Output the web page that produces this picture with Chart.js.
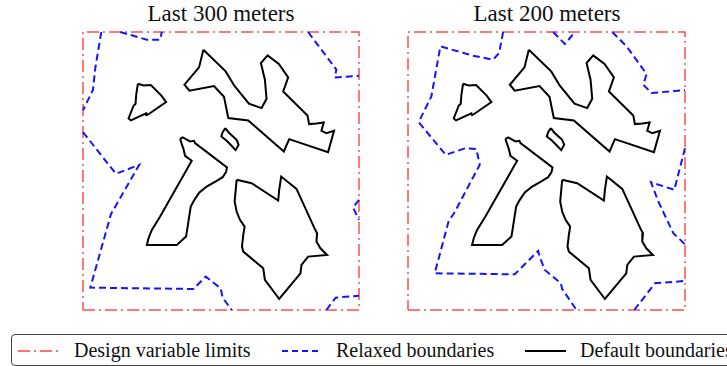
<!doctype html>
<html>
<head>
<meta charset="utf-8">
<title>Boundaries</title>
<script src="https://cdn.jsdelivr.net/npm/chart.js@4"></script>
<style>
	body { margin: 0; width: 727px; height: 366px; overflow: hidden; background: #fff; position: relative; font-family: "Liberation Serif", "DejaVu Serif", serif; }
	canvas { position: absolute; }
	.title { position: absolute; top: 0; height: 28px; line-height: 28px; font-size: 23px; text-align: center; width: 300px; color: #111; }
	.legendbox { position: absolute; left: 11px; top: 334px; width: 760px; height: 30px; border: 1.5px solid #444; border-radius: 4px; }
	.ltext { position: absolute; top: 340px; font-size: 20px; line-height: 20px; color: #111; white-space: nowrap; }
	svg { position: absolute; }
</style>
</head>
<body>
<div class="title" style="left:71px">Last 300 meters</div>
<div class="title" style="left:397px">Last 200 meters</div>
<canvas id="panel300" width="286" height="288" style="left:78px;top:27px"></canvas>
<canvas id="panel200" width="287" height="288" style="left:403px;top:27px"></canvas>

<div class="legendbox"></div>
<svg style="left:18px;top:345px" width="40" height="12"><line x1="0" y1="6" x2="40" y2="6" stroke="rgba(255,0,0,0.75)" stroke-width="1.6" stroke-dasharray="12,4,2,4"/></svg>
<div class="ltext" style="left:74px">Design variable limits</div>
<svg style="left:282px;top:345px" width="37" height="12"><line x1="0" y1="6" x2="37" y2="6" stroke="#1414ff" stroke-width="1.8" stroke-dasharray="6,4"/></svg>
<div class="ltext" style="left:336px">Relaxed boundaries</div>
<svg style="left:525px;top:345px" width="41" height="12"><line x1="0" y1="6" x2="41" y2="6" stroke="#000" stroke-width="2"/></svg>
<div class="ltext" style="left:580px">Default boundaries</div>

<script>
	// limits of the design variables (box)
	var xMax = 830, yMax = 833;
	var limitBox = [[0,0],[830,0],[830,833],[0,833],[0,0]];

	// default boundaries (same in both panels)
	var islandA = [[165,678],[182,673],[204,674],[235,643],[250,623],[199,588],[192,584],[190,589],[144,568],[137,574],[152,612],[158,618],[160,645],[165,678]];
	var islandB = [[362,780],[429,715],[455,672],[499,618],[537,605],[552,633],[547,690],[535,740],[555,763],[589,737],[617,697],[602,655],[675,583],[680,557],[702,559],[724,562],[717,537],[732,530],[755,537],[737,473],[620,512],[604,475],[497,568],[437,575],[424,639],[394,671],[320,657],[305,675],[349,727],[362,780]];
	var islandC = [[428,545],[438,532],[462,510],[468,495],[459,479],[444,495],[432,507],[416,520],[420,533],[428,545]];
	var islandD = [[292,513],[300,517],[322,505],[334,507],[337,500],[433,427],[430,413],[420,398],[402,387],[372,370],[350,352],[335,330],[324,310],[310,220],[282,195],[192,195],[197,215],[207,240],[232,280],[327,447],[307,462],[302,483],[297,497],[292,513]];
	var islandE = [[462,390],[507,380],[587,328],[590,360],[596,400],[642,363],[697,243],[704,230],[702,205],[714,185],[734,165],[677,160],[657,135],[654,110],[590,33],[547,90],[542,125],[482,175],[478,190],[482,225],[486,250],[472,270],[462,295],[456,325],[462,390]];

	// relaxed boundaries, last 300 m
	var r300a = [[55,833],[37,725],[30,660],[0,598]];
	var r300b = [[112,833],[192,810],[232,810],[237,833]];
	var r300c = [[677,833],[762,720],[757,697],[830,702]];
	var r300d = [[0,533],[99,408],[169,435],[84,287],[22,67],[332,63],[369,100],[414,65],[420,37],[447,0]];
	var r300e = [[830,330],[812,307],[830,270]];
	var r300f = [[732,0],[760,37],[830,43]];

	// relaxed boundaries, last 200 m
	var r200a = [[285,833],[273,770],[255,750],[195,762],[97,790],[70,640],[32,563],[113,465],[173,485],[205,482],[215,435],[138,290],[122,267],[80,110],[320,107],[390,177],[396,155],[410,120],[458,80],[462,63],[505,0]];
	var r200b = [[435,833],[470,797],[500,833]];
	var r200c = [[612,833],[655,790],[715,707],[705,675],[730,650],[830,659]];
	var r200d = [[830,485],[798,360],[728,383],[750,325],[795,230],[830,197]];
	var r200e = [[678,0],[740,80],[830,87]];

	var toXY = function(pts) {
		return pts.map(function(p) { return {x: p[0], y: p[1]}; });
	};

	var line = function(pts, color, width, dash) {
		return {
			data: toXY(pts),
			showLine: true,
			borderColor: color,
			borderWidth: width,
			borderDash: dash,
			pointRadius: 0,
			tension: 0,
			fill: false,
			clip: false
		};
	};

	var makePanel = function(id, relaxed) {
		var sets = [];
		[islandA, islandB, islandC, islandD, islandE].forEach(function(s) {
			sets.push(line(s, "#000", 2, []));
		});
		relaxed.forEach(function(s) {
			sets.push(line(s, "#1414ff", 2, [7, 4]));
		});
		sets.push(line(limitBox, "rgba(255,0,0,0.7)", 1.5, [12, 4, 2, 4]));

		new Chart(document.getElementById(id).getContext("2d"), {
			type: "scatter",
			data: { datasets: sets },
			options: {
				responsive: false,
				animation: false,
				layout: { padding: 5 },
				plugins: { legend: { display: false }, tooltip: { enabled: false } },
				scales: {
					x: { type: "linear", min: 0, max: xMax, display: false },
					y: { type: "linear", min: 0, max: yMax, display: false }
				}
			}
		});
	};

	makePanel("panel300", [r300a, r300b, r300c, r300d, r300e, r300f]);
	makePanel("panel200", [r200a, r200b, r200c, r200d, r200e]);
</script>
</body>
</html>
